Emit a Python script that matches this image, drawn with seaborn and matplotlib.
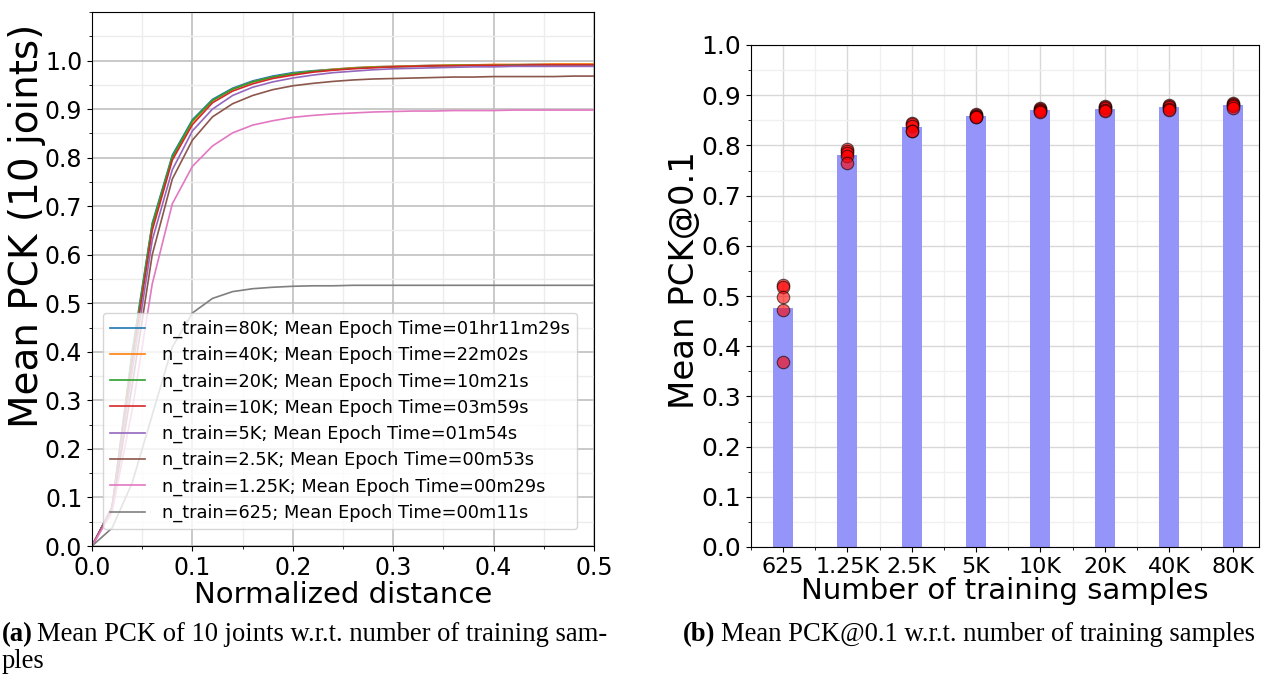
import numpy as np
import pandas as pd
import matplotlib
matplotlib.use("Agg")
import matplotlib.pyplot as plt
import seaborn as sns
from matplotlib.ticker import MultipleLocator

# left panel: mean PCK curves, sampled every 0.02 of normalized distance
dist = [0.00, 0.02, 0.04, 0.06, 0.08, 0.10, 0.12, 0.14, 0.16, 0.18, 0.20, 0.22, 0.24,
        0.26, 0.28, 0.30, 0.32, 0.34, 0.36, 0.38, 0.40, 0.42, 0.44, 0.46, 0.48, 0.50]
pck_80k = [0, 0.080, 0.400, 0.665, 0.805, 0.878, 0.920, 0.943, 0.958, 0.968, 0.975, 0.979, 0.982,
           0.985, 0.987, 0.988, 0.989, 0.990, 0.990, 0.991, 0.991, 0.991, 0.992, 0.992, 0.992, 0.992]
pck_40k = [0, 0.080, 0.390, 0.660, 0.800, 0.874, 0.917, 0.941, 0.956, 0.966, 0.973, 0.978, 0.982,
           0.985, 0.987, 0.988, 0.989, 0.990, 0.991, 0.991, 0.992, 0.992, 0.992, 0.993, 0.993, 0.993]
pck_20k = [0, 0.080, 0.395, 0.662, 0.802, 0.876, 0.918, 0.941, 0.956, 0.966, 0.973, 0.978, 0.981,
           0.984, 0.986, 0.987, 0.988, 0.989, 0.990, 0.990, 0.990, 0.991, 0.991, 0.991, 0.991, 0.991]
pck_10k = [0, 0.080, 0.380, 0.650, 0.795, 0.868, 0.913, 0.937, 0.952, 0.963, 0.970, 0.976, 0.980,
           0.983, 0.985, 0.987, 0.988, 0.989, 0.989, 0.990, 0.990, 0.990, 0.991, 0.991, 0.991, 0.991]
pck_5k = [0, 0.080, 0.360, 0.630, 0.775, 0.855, 0.900, 0.928, 0.945, 0.956, 0.964, 0.970, 0.975,
          0.978, 0.981, 0.983, 0.984, 0.985, 0.986, 0.987, 0.987, 0.988, 0.988, 0.988, 0.988, 0.988]
pck_2_5k = [0, 0.075, 0.330, 0.600, 0.756, 0.836, 0.884, 0.911, 0.928, 0.940, 0.948, 0.953, 0.957,
            0.960, 0.962, 0.963, 0.964, 0.965, 0.966, 0.966, 0.967, 0.967, 0.967, 0.967, 0.968, 0.968]
pck_1_25k = [0, 0.070, 0.280, 0.540, 0.705, 0.782, 0.824, 0.851, 0.867, 0.876, 0.883, 0.887, 0.890,
             0.892, 0.894, 0.895, 0.896, 0.896, 0.897, 0.897, 0.897, 0.898, 0.898, 0.898, 0.898, 0.898]
pck_625 = [0, 0.037, 0.130, 0.270, 0.410, 0.480, 0.510, 0.524, 0.530, 0.533, 0.535, 0.536, 0.536,
           0.537, 0.537, 0.537, 0.537, 0.537, 0.537, 0.537, 0.537, 0.537, 0.537, 0.537, 0.537, 0.537]

curve_labels = [
    "n_train=80K; Mean Epoch Time=01hr11m29s",
    "n_train=40K; Mean Epoch Time=22m02s",
    "n_train=20K; Mean Epoch Time=10m21s",
    "n_train=10K; Mean Epoch Time=03m59s",
    "n_train=5K; Mean Epoch Time=01m54s",
    "n_train=2.5K; Mean Epoch Time=00m53s",
    "n_train=1.25K; Mean Epoch Time=00m29s",
    "n_train=625; Mean Epoch Time=00m11s",
]
curves = [pck_80k, pck_40k, pck_20k, pck_10k, pck_5k, pck_2_5k, pck_1_25k, pck_625]

# right panel: PCK@0.1 of five runs per training-set size
sizes = ["625", "1.25K", "2.5K", "5K", "10K", "20K", "40K", "80K"]
runs_pck01 = [
    [0.522, 0.517, 0.498, 0.472, 0.369],
    [0.792, 0.789, 0.784, 0.779, 0.764],
    [0.845, 0.842, 0.838, 0.829, 0.828],
    [0.862, 0.860, 0.858, 0.857, 0.856],
    [0.874, 0.872, 0.870, 0.868, 0.866],
    [0.878, 0.876, 0.874, 0.870, 0.868],
    [0.880, 0.878, 0.876, 0.873, 0.871],
    [0.884, 0.882, 0.880, 0.878, 0.875],
]

df_curves = pd.concat(
    [pd.DataFrame({"dist": dist, "pck": c, "run": lab}) for c, lab in zip(curves, curve_labels)],
    ignore_index=True)
df_runs = pd.DataFrame(
    [(s, v) for s, vals in zip(sizes, runs_pck01) for v in vals], columns=["size", "pck"])

plt.rcParams["font.family"] = ["DejaVu Sans"]

fig = plt.figure(figsize=(12.71, 6.77), dpi=100)
ax1 = fig.add_axes([92 / 1271, 131 / 677, 502 / 1271, 534 / 677])
ax2 = fig.add_axes([751 / 1271, 130 / 677, 508 / 1271, 502 / 677])

# ---- left: curves
sns.lineplot(data=df_curves, x="dist", y="pck", hue="run", palette="tab10",
             linewidth=1.2, ax=ax1)
ax1.set_xlim(0, 0.5)
ax1.set_ylim(0, 1.1)
ax1.set_xticks(np.arange(0, 0.51, 0.1))
ax1.set_yticks(np.arange(0, 1.01, 0.1))
ax1.xaxis.set_minor_locator(MultipleLocator(0.05))
ax1.yaxis.set_minor_locator(MultipleLocator(0.05))
ax1.grid(which="major", color="#c0c0c0", linewidth=1.2)
ax1.grid(which="minor", color="#ececec", linewidth=1.0)
ax1.set_axisbelow(True)
ax1.tick_params(labelsize=17)
ax1.set_xlabel("Normalized distance", fontsize=21, labelpad=1)
ax1.set_ylabel("Mean PCK (10 joints)", fontsize=28)
ax1.yaxis.set_label_coords(-0.092, 0.60)
leg = ax1.legend(loc="lower right", fontsize=12.8, borderaxespad=0.95,
                 handlelength=2.0, handletextpad=0.95, labelspacing=0.45)
leg.set_title(None)

# ---- right: bars with per-run points
sns.barplot(data=df_runs, x="size", y="pck", order=sizes, errorbar=None,
            color="#9494f9", saturation=1, width=0.31, ax=ax2)
sns.stripplot(data=df_runs, x="size", y="pck", order=sizes, jitter=False,
              color="red", alpha=0.6, edgecolor="black", linewidth=0.8, size=9, ax=ax2)
ax2.set_xlim(-0.5, 7.4)
ax2.set_ylim(0, 1.0)
ax2.set_yticks(np.arange(0, 1.01, 0.1))
ax2.xaxis.set_minor_locator(MultipleLocator(0.5))
ax2.yaxis.set_minor_locator(MultipleLocator(0.05))
ax2.grid(which="major", color="#d8d8d8", linewidth=1.0)
ax2.grid(which="minor", color="#f0f0f0", linewidth=1.0)
ax2.set_axisbelow(True)
ax2.tick_params(axis="y", labelsize=18)
ax2.tick_params(axis="x", labelsize=16)
ax2.set_xlabel("Number of training samples", fontsize=21, labelpad=0)
ax2.set_ylabel("Mean PCK@0.1", fontsize=24.5)
ax2.yaxis.set_label_coords(-0.098, 0.532)

# captions
cap = dict(family="Liberation Serif", fontsize=19.2, va="baseline")
fig.text(2 / 1271, 1 - 641 / 677, "(a)", fontweight="bold", **cap)
fig.text(37 / 1271, 1 - 641 / 677, "Mean PCK of 10 joints w.r.t. number of training sam-", **cap)
fig.text(2 / 1271, 1 - 668 / 677, "ples", **cap)
fig.text(683 / 1271, 1 - 641 / 677, "(b)", fontweight="bold", **cap)
fig.text(721 / 1271, 1 - 641 / 677, "Mean PCK@0.1 w.r.t. number of training samples", **cap)

fig.savefig("out.png", dpi=100)
